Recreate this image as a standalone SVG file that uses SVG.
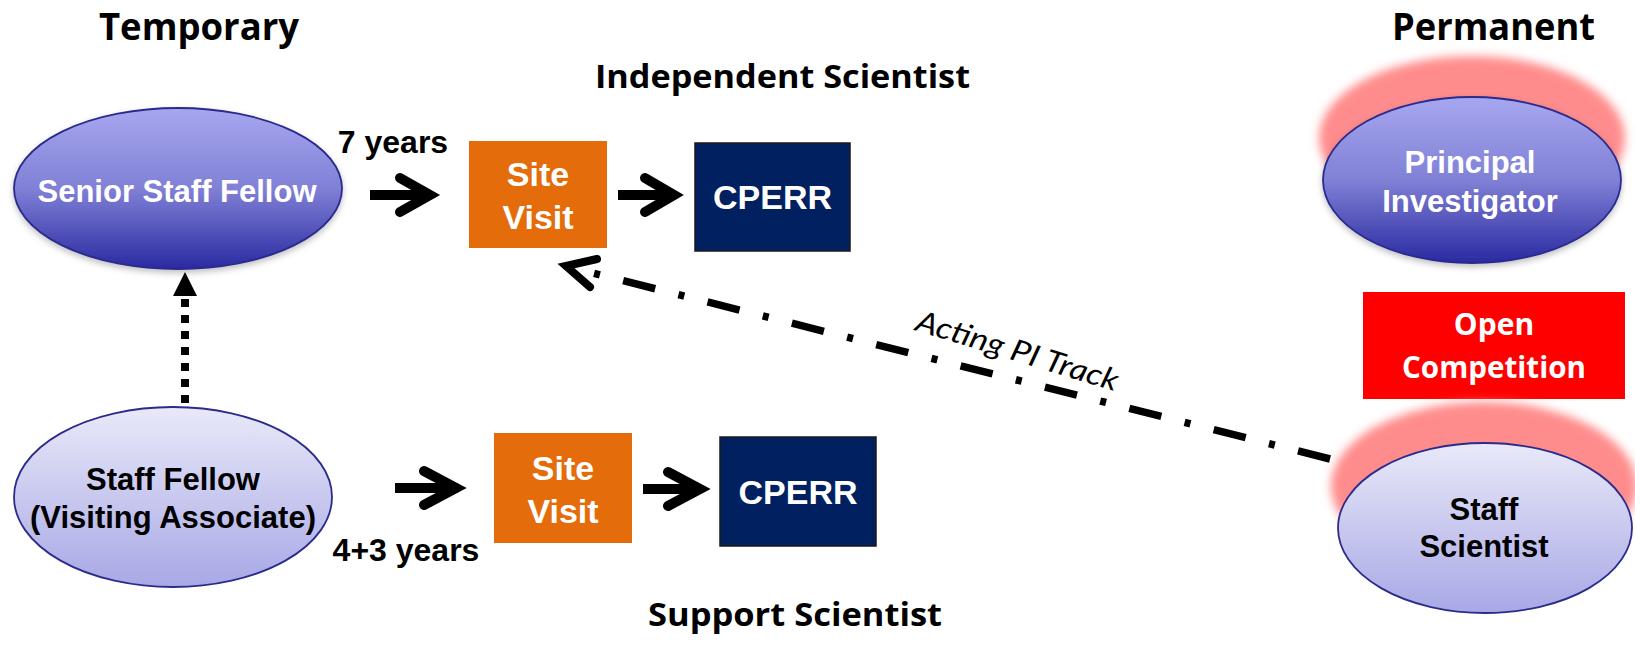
<svg xmlns="http://www.w3.org/2000/svg" width="1635" height="645" viewBox="0 0 1635 645">
<defs>
<linearGradient id="gDark" x1="0" y1="0" x2="0" y2="1">
<stop offset="0" stop-color="#A7A7F0"/>
<stop offset="0.5" stop-color="#8080D6"/>
<stop offset="1" stop-color="#2A2AA2"/>
</linearGradient>
<linearGradient id="gLight" x1="0" y1="0" x2="0" y2="1">
<stop offset="0" stop-color="#E9E9F9"/>
<stop offset="1" stop-color="#A8A8E6"/>
</linearGradient>
<filter id="glow" x="-20%" y="-20%" width="140%" height="140%">
<feGaussianBlur stdDeviation="5"/>
</filter>
<filter id="shadow" x="-10%" y="-10%" width="120%" height="130%">
<feDropShadow dx="0" dy="3" stdDeviation="3" flood-color="#000" flood-opacity="0.25"/>
</filter>
<style>
.ell{stroke:#2B2B8C;stroke-width:1.8}
.dark{fill:url(#gDark)}
.light{fill:url(#gLight)}
.glow{fill:#FF8C8C;filter:url(#glow)}
.ar{font-family:"Liberation Sans",Arial,sans-serif;font-weight:bold;text-anchor:middle}
.w{fill:#fff}
.k{fill:#000}
.cal{font-family:"Open Sans",Lato,sans-serif;font-weight:bold;fill:#000}
.site{fill:#E46C0A}
.cperr{fill:#002060;stroke:#1a1a1a;stroke-width:1.5}
.shaft{stroke:#000;stroke-width:10;fill:none}
.head{stroke:#000;stroke-width:10;fill:none;stroke-linecap:round;stroke-linejoin:miter}
</style>
</defs>

<g id="titles">
<text class="cal" x="99" y="40" font-size="38" textLength="200" lengthAdjust="spacingAndGlyphs">Temporary</text>
<text class="cal" x="1392" y="40" font-size="38" textLength="203" lengthAdjust="spacingAndGlyphs">Permanent</text>
<text class="cal" x="595" y="88" font-size="33" textLength="375" lengthAdjust="spacingAndGlyphs">Independent Scientist</text>
<text class="cal" x="648" y="626" font-size="33" textLength="294" lengthAdjust="spacingAndGlyphs">Support Scientist</text>
</g>

<g id="senior-staff-fellow">
<ellipse class="ell dark" cx="178" cy="188.5" rx="164" ry="80.5" filter="url(#shadow)"/>
<text class="ar w" x="177" y="202" font-size="31">Senior Staff Fellow</text>
</g>

<g id="staff-fellow">
<ellipse class="ell light" cx="173" cy="497" rx="159" ry="90"/>
<text class="ar k" x="173" y="490" font-size="31">Staff Fellow</text>
<text class="ar k" x="173" y="528" font-size="31">(Visiting Associate)</text>
</g>

<g id="label-7years">
<text class="ar k" x="393" y="153" font-size="32">7 years</text>
</g>
<g id="label-43years">
<text class="ar k" x="406" y="561" font-size="32">4+3 years</text>
</g>

<g id="site-visit-1">
<rect class="site" x="469" y="141" width="138" height="107"/>
<text class="ar w" x="538" y="186" font-size="34">Site</text>
<text class="ar w" x="538" y="229" font-size="34">Visit</text>
</g>

<g id="cperr-1">
<rect class="cperr" x="695" y="143" width="155" height="108"/>
<text class="ar w" x="772.5" y="209" font-size="34">CPERR</text>
</g>

<g id="site-visit-2">
<rect class="site" x="494" y="433" width="138" height="110"/>
<text class="ar w" x="563" y="480" font-size="34">Site</text>
<text class="ar w" x="563" y="523" font-size="34">Visit</text>
</g>

<g id="cperr-2">
<rect class="cperr" x="720" y="437" width="156" height="109"/>
<text class="ar w" x="798" y="504" font-size="34">CPERR</text>
</g>

<g id="principal-investigator">
<ellipse class="glow" cx="1472" cy="138" rx="153" ry="82"/>
<ellipse class="ell dark" cx="1472" cy="180" rx="149" ry="83" filter="url(#shadow)"/>
<text class="ar w" x="1470" y="173" font-size="31">Principal</text>
<text class="ar w" x="1470" y="212" font-size="31">Investigator</text>
</g>

<g id="open-competition">
<rect x="1363" y="292" width="262" height="107" fill="#FF0000"/>
<text class="cal" x="1494" y="335" font-size="30" text-anchor="middle" style="fill:#fff">Open</text>
<text class="cal" x="1494" y="378" font-size="30" text-anchor="middle" style="fill:#fff" textLength="184" lengthAdjust="spacingAndGlyphs">Competition</text>
</g>

<g id="staff-scientist">
<ellipse class="glow" cx="1484" cy="486" rx="153" ry="84"/>
<ellipse class="ell light" cx="1485" cy="528" rx="147" ry="85"/>
<text class="ar k" x="1484" y="520" font-size="31">Staff</text>
<text class="ar k" x="1484" y="557" font-size="31">Scientist</text>
</g>

<g id="connectors">
<path class="shaft" d="M370 195 H428"/>
<path class="head" d="M400 178 L430 195 L400 212"/>
<path class="shaft" d="M618 195 H672"/>
<path class="head" d="M645 178 L674 195 L645 212"/>
<path class="shaft" d="M395 488 H454"/>
<path class="head" d="M424 471 L456 488 L424 505"/>
<path class="shaft" d="M643 489 H698"/>
<path class="head" d="M668 472 L700 489 L668 506"/>
<path d="M185 403 V296" stroke="#000" stroke-width="8" stroke-dasharray="8 8" fill="none"/>
<path d="M173 296 L197 296 L185 272 Z" fill="#000"/>
<path d="M565 266 L1338 461" stroke="#000" stroke-width="7.5" stroke-dasharray="33 24 6 24" stroke-dashoffset="27" fill="none"/>
<path d="M597 259 L566 266 L590 287" stroke="#000" stroke-width="8" fill="none" stroke-linecap="round" stroke-linejoin="miter"/>
<text transform="translate(1017,352) rotate(17)" x="0" y="9" font-family="Lato,'Open Sans',sans-serif" font-style="italic" font-size="30" text-anchor="middle" fill="#000" textLength="210" lengthAdjust="spacingAndGlyphs">Acting PI Track</text>
</g>
</svg>
